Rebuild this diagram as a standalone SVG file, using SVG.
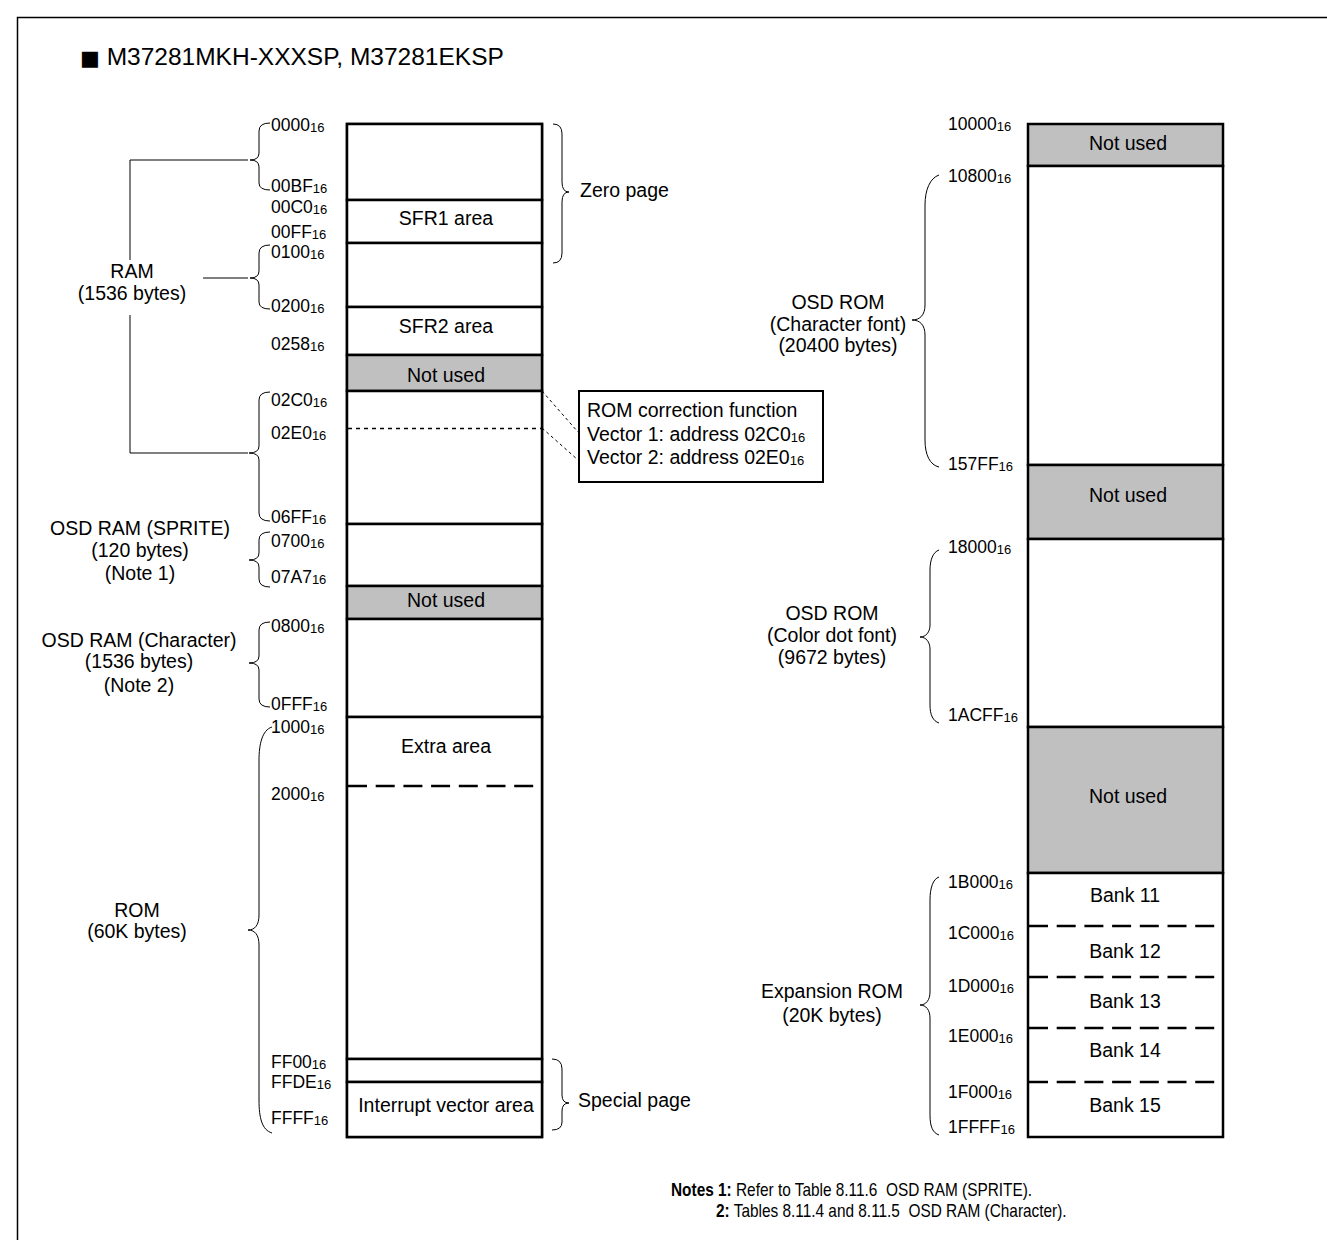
<svg xmlns="http://www.w3.org/2000/svg" width="1327" height="1240" viewBox="0 0 1327 1240">
<style>
text{font-family:"Liberation Sans",Arial,sans-serif;fill:#000}
.lbl{font-size:19.5px}
.mid{text-anchor:middle}
.adr{font-size:17.5px}
.sub{font-size:13px}
.box{fill:#fff;stroke:#000;stroke-width:2.5}
.gray{fill:#c0c0c0;stroke:#000;stroke-width:2.5}
.brace{fill:none;stroke:#000;stroke-width:1}
.thin{fill:none;stroke:#000;stroke-width:1}
.ldash{stroke:#000;stroke-width:2.5;stroke-dasharray:19 8.7;fill:none}
.sdash{stroke:#000;stroke-width:1.5;stroke-dasharray:4 4;fill:none}
.diag{stroke:#000;stroke-width:1;stroke-dasharray:3 3;fill:none}
.note{font-size:17.5px}
</style>
<rect x="0" y="0" width="1327" height="1240" fill="#fff"/>
<rect x="17.5" y="17.5" width="1400" height="1300" fill="none" stroke="#000" stroke-width="1.5"/>
<text id="title" x="80" y="65" style="font-size:24.5px" xml:space="preserve"><tspan style="font-family:'DejaVu Sans',sans-serif;font-size:21px">■</tspan> M37281MKH-XXXSP, M37281EKSP</text>

<!-- Left memory map -->
<g id="left-map">
  <rect class="box" x="347" y="124" width="195" height="1013"/>
  <g id="zero-page-area"><rect class="box" x="347" y="124" width="195" height="76"/></g>
  <g id="sfr1"><rect class="box" x="347" y="200" width="195" height="43"/><text class="lbl mid" x="446" y="225">SFR1 area</text></g>
  <g id="ram-0100"><rect class="box" x="347" y="243" width="195" height="64"/></g>
  <g id="sfr2"><rect class="box" x="347" y="307" width="195" height="48"/><text class="lbl mid" x="446" y="333">SFR2 area</text></g>
  <g id="notused-l1"><rect class="gray" x="347" y="355" width="195" height="36"/><text class="lbl mid" x="446" y="382">Not used</text></g>
  <g id="ram-02c0"><rect class="box" x="347" y="391" width="195" height="133"/><line class="sdash" x1="348" y1="428.5" x2="541" y2="428.5"/></g>
  <g id="osd-sprite"><rect class="box" x="347" y="524" width="195" height="62"/></g>
  <g id="notused-l2"><rect class="gray" x="347" y="586" width="195" height="33"/><text class="lbl mid" x="446" y="607">Not used</text></g>
  <g id="osd-char"><rect class="box" x="347" y="619" width="195" height="98"/></g>
  <g id="extra-area"><rect class="box" x="347" y="717" width="195" height="342"/><text class="lbl mid" x="446" y="753">Extra area</text><line class="ldash" x1="348" y1="786" x2="541" y2="786"/></g>
  <g id="special-ff00"><rect class="box" x="347" y="1059" width="195" height="23"/></g>
  <g id="interrupt"><rect class="box" x="347" y="1082" width="195" height="55"/><text class="lbl mid" x="446" y="1112">Interrupt vector area</text></g>
</g>

<!-- Left addresses -->
<g id="left-addresses">
  <text class="adr" x="271" y="131">0000<tspan class="sub" dy="1">16</tspan></text>
  <text class="adr" x="271" y="192">00BF<tspan class="sub" dy="1">16</tspan></text>
  <text class="adr" x="271" y="213">00C0<tspan class="sub" dy="1">16</tspan></text>
  <text class="adr" x="271" y="238">00FF<tspan class="sub" dy="1">16</tspan></text>
  <text class="adr" x="271" y="258">0100<tspan class="sub" dy="1">16</tspan></text>
  <text class="adr" x="271" y="312">0200<tspan class="sub" dy="1">16</tspan></text>
  <text class="adr" x="271" y="350">0258<tspan class="sub" dy="1">16</tspan></text>
  <text class="adr" x="271" y="406">02C0<tspan class="sub" dy="1">16</tspan></text>
  <text class="adr" x="271" y="439">02E0<tspan class="sub" dy="1">16</tspan></text>
  <text class="adr" x="271" y="523">06FF<tspan class="sub" dy="1">16</tspan></text>
  <text class="adr" x="271" y="547">0700<tspan class="sub" dy="1">16</tspan></text>
  <text class="adr" x="271" y="583">07A7<tspan class="sub" dy="1">16</tspan></text>
  <text class="adr" x="271" y="632">0800<tspan class="sub" dy="1">16</tspan></text>
  <text class="adr" x="271" y="710">0FFF<tspan class="sub" dy="1">16</tspan></text>
  <text class="adr" x="271" y="733">1000<tspan class="sub" dy="1">16</tspan></text>
  <text class="adr" x="271" y="800">2000<tspan class="sub" dy="1">16</tspan></text>
  <text class="adr" x="271" y="1068">FF00<tspan class="sub" dy="1">16</tspan></text>
  <text class="adr" x="271" y="1088">FFDE<tspan class="sub" dy="1">16</tspan></text>
  <text class="adr" x="271" y="1124">FFFF<tspan class="sub" dy="1">16</tspan></text>
</g>

<!-- Left labels -->
<g id="ram-label"><text class="lbl mid" x="132" y="278">RAM</text><text class="lbl mid" x="132" y="300">(1536 bytes)</text></g>
<g id="osd-sprite-label"><text class="lbl mid" x="140" y="535">OSD RAM (SPRITE)</text><text class="lbl mid" x="140" y="557">(120 bytes)</text><text class="lbl mid" x="140" y="580">(Note 1)</text></g>
<g id="osd-char-label"><text class="lbl mid" x="139" y="647">OSD RAM (Character)</text><text class="lbl mid" x="139" y="668">(1536 bytes)</text><text class="lbl mid" x="139" y="692">(Note 2)</text></g>
<g id="rom-label"><text class="lbl mid" x="137" y="917">ROM</text><text class="lbl mid" x="137" y="938">(60K bytes)</text></g>
<g id="zero-page-label"><text class="lbl" x="580" y="197">Zero page</text></g>
<g id="special-page-label"><text class="lbl" x="578" y="1107">Special page</text></g>
<g id="rom-correction">
  <rect x="579" y="391" width="244" height="91" fill="#fff" stroke="#000" stroke-width="2"/>
  <text class="lbl" x="587" y="417">ROM correction function</text>
  <text class="lbl" x="587" y="441">Vector 1: address 02C0<tspan class="sub" dy="1">16</tspan></text>
  <text class="lbl" x="587" y="464">Vector 2: address 02E0<tspan class="sub" dy="1">16</tspan></text>
</g>

<!-- Right memory map -->
<g id="right-map">
  <g id="notused-r1"><rect class="gray" x="1028" y="124" width="195" height="42"/><text class="lbl mid" x="1128" y="150">Not used</text></g>
  <g id="osd-rom-char"><rect class="box" x="1028" y="166" width="195" height="299"/></g>
  <g id="notused-r2"><rect class="gray" x="1028" y="465" width="195" height="74"/><text class="lbl mid" x="1128" y="502">Not used</text></g>
  <g id="osd-rom-color"><rect class="box" x="1028" y="539" width="195" height="188"/></g>
  <g id="notused-r3"><rect class="gray" x="1028" y="727" width="195" height="146"/><text class="lbl mid" x="1128" y="803">Not used</text></g>
  <g id="expansion-rom"><rect class="box" x="1028" y="873" width="195" height="264"/>
    <line class="ldash" x1="1029" y1="926" x2="1222" y2="926"/>
    <line class="ldash" x1="1029" y1="977" x2="1222" y2="977"/>
    <line class="ldash" x1="1029" y1="1028" x2="1222" y2="1028"/>
    <line class="ldash" x1="1029" y1="1082" x2="1222" y2="1082"/>
    <text class="lbl mid" x="1125" y="902">Bank 11</text>
    <text class="lbl mid" x="1125" y="958">Bank 12</text>
    <text class="lbl mid" x="1125" y="1008">Bank 13</text>
    <text class="lbl mid" x="1125" y="1057">Bank 14</text>
    <text class="lbl mid" x="1125" y="1112">Bank 15</text>
  </g>
</g>

<g id="right-addresses">
  <text class="adr" x="948" y="130">10000<tspan class="sub" dy="1">16</tspan></text>
  <text class="adr" x="948" y="182">10800<tspan class="sub" dy="1">16</tspan></text>
  <text class="adr" x="948" y="470">157FF<tspan class="sub" dy="1">16</tspan></text>
  <text class="adr" x="948" y="553">18000<tspan class="sub" dy="1">16</tspan></text>
  <text class="adr" x="948" y="721">1ACFF<tspan class="sub" dy="1">16</tspan></text>
  <text class="adr" x="948" y="888">1B000<tspan class="sub" dy="1">16</tspan></text>
  <text class="adr" x="948" y="939">1C000<tspan class="sub" dy="1">16</tspan></text>
  <text class="adr" x="948" y="992">1D000<tspan class="sub" dy="1">16</tspan></text>
  <text class="adr" x="948" y="1042">1E000<tspan class="sub" dy="1">16</tspan></text>
  <text class="adr" x="948" y="1098">1F000<tspan class="sub" dy="1">16</tspan></text>
  <text class="adr" x="948" y="1133">1FFFF<tspan class="sub" dy="1">16</tspan></text>
</g>

<g id="osd-rom-char-label"><text class="lbl mid" x="838" y="309">OSD ROM</text><text class="lbl mid" x="838" y="331">(Character font)</text><text class="lbl mid" x="838" y="352">(20400 bytes)</text></g>
<g id="osd-rom-color-label"><text class="lbl mid" x="832" y="620">OSD ROM</text><text class="lbl mid" x="832" y="642">(Color dot font)</text><text class="lbl mid" x="832" y="664">(9672 bytes)</text></g>
<g id="expansion-label"><text class="lbl mid" x="832" y="998">Expansion ROM</text><text class="lbl mid" x="832" y="1022">(20K bytes)</text></g>

<!-- Connectors: braces, bracket lines and leader lines -->
<g id="connectors">
  <path class="brace" d="M270,123 Q259,123 259,131 L259,153 Q259,160 250,160 Q259,160 259,167 L259,183 Q259,190 270,190"/>
  <path class="brace" d="M270,245 Q259,245 259,253 L259,271 Q259,278 250,278 Q259,278 259,285 L259,302 Q259,309 270,309"/>
  <path class="brace" d="M270,392 Q259,392 259,400 L259,446 Q259,453 249,453 Q259,453 259,460 L259,513 Q259,521 270,521"/>
  <path class="brace" d="M270,532 Q259,532 259,540 L259,553 Q259,560 249,560 Q259,560 259,567 L259,579 Q259,587 270,587"/>
  <path class="brace" d="M270,622 Q259,622 259,630 L259,656 Q259,663 249,663 Q259,663 259,670 L259,699 Q259,707 270,707"/>
  <path class="brace" d="M272,727 C262,730 259,745 259,760 L259,915 C259,925 255,930 248,930 C255,930 259,935 259,945 L259,1100 C259,1118 262,1130 272,1133"/>
  <path class="brace" d="M553,124 Q562,124 562,134 L562,182 Q562,192 569,192 Q562,192 562,202 L562,253 Q562,263 553,263"/>
  <path class="brace" d="M552,1059 Q562,1059 562,1069 L562,1095 Q562,1103 569,1103 Q562,1103 562,1111 L562,1122 Q562,1130 552,1130"/>
  <path class="brace" d="M939,175 C930,178 925,190 925,205 L925,305 C925,315 920,320 912,320 C920,320 925,325 925,335 L925,440 C925,455 930,465 939,467"/>
  <path class="brace" d="M939,550 C933,552 930,560 930,570 L930,625 C930,632 926,637 920,637 C926,637 930,642 930,649 L930,705 C930,715 933,721 939,723"/>
  <path class="brace" d="M939,877 C933,879 930,888 930,900 L930,992 C930,1000 926,1005 920,1005 C926,1005 930,1010 930,1018 L930,1115 C930,1127 933,1133 939,1135"/>
  <polyline class="thin" points="248,160 130,160 130,260"/>
  <line class="thin" x1="203" y1="278" x2="248" y2="278"/>
  <polyline class="thin" points="130,315 130,453 248,453"/>
  <line class="diag" x1="542" y1="391" x2="578" y2="432"/>
  <line class="diag" x1="542" y1="428" x2="578" y2="460"/>
</g>

<g id="notes">
  <text class="note" transform="translate(671,1196) scale(0.88,1)" xml:space="preserve"><tspan font-weight="bold">Notes 1:</tspan> Refer to Table 8.11.6  OSD RAM (SPRITE).</text>
  <text class="note" transform="translate(716,1217) scale(0.88,1)" xml:space="preserve"><tspan font-weight="bold">2:</tspan> Tables 8.11.4 and 8.11.5  OSD RAM (Character).</text>
</g>
</svg>
